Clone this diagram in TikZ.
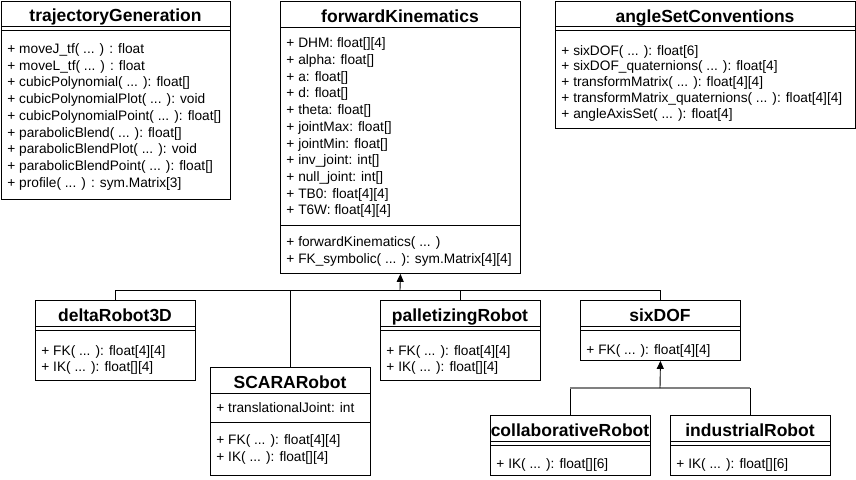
\documentclass[tikz,border=0pt]{standalone}
\usepackage{fontspec}
\setmainfont{Liberation Sans}
\usetikzlibrary{arrows.meta}

\tikzset{
  classbox/.style={draw, rectangle, inner sep=0pt, anchor=north west},
  classname/.style={font=\fontsize{17.5}{20}\selectfont\bfseries, anchor=base, inner sep=0pt},
  members/.style={font=\fontsize{13.7}{16.7}\selectfont, align=left, anchor=base west, inner sep=0pt},
  inherit/.style={-{Triangle[width=7pt,length=8pt]}},
}

\begin{document}
\begin{tikzpicture}[x=1pt, y=-1pt, line width=0.9pt]
\useasboundingbox (0,0) rectangle (856,479);

% top row (member lists are placed by the baseline of their last line)
\node[classbox, minimum width=229pt, minimum height=198pt] (traj) at (1,1) {};
\node[classname] (trajname) at (115.5,21.5) {trajectoryGeneration};
\draw (1,26) -- (230,26);
\draw (1,30) -- (230,30);
\node[members] (trajops) at (7,187.1) {+ moveJ\_tf( ... ) : float\\+ moveL\_tf( ... ) : float\\+ cubicPolynomial( ... ): float[]\\+ cubicPolynomialPlot( ... ): void\\+ cubicPolynomialPoint( ... ): float[]\\+ parabolicBlend( ... ): float[]\\+ parabolicBlendPlot( ... ): void\\+ parabolicBlendPoint( ... ): float[]\\+ profile( ... ) : sym.Matrix[3]};

\node[classbox, minimum width=240pt, minimum height=272pt] (fk) at (280,1) {};
\node[classname] (fkname) at (400,22) {forwardKinematics};
\draw (280,27) -- (520,27);
\node[members] (fkattr) at (286,214.8) {+ DHM: float[][4]\\+ alpha: float[]\\+ a: float[]\\+ d: float[]\\+ theta: float[]\\+ jointMax: float[]\\+ jointMin: float[]\\+ inv\_joint: int[]\\+ null\_joint: int[]\\+ TB0: float[4][4]\\+ T6W: float[4][4]};
\draw (280,225) -- (520,225);
\node[members] (fkops) at (286,263.2) {+ forwardKinematics( ... )\\+ FK\_symbolic( ... ): sym.Matrix[4][4]};

\node[classbox, minimum width=300pt, minimum height=127pt] (angles) at (555,1) {};
\node[classname] (anglesname) at (705,22) {angleSetConventions};
\draw (555,26) -- (855,26);
\draw (555,30) -- (855,30);
\node[members, font=\fontsize{13.7}{15.8}\selectfont] (anglesops) at (561,118.2) {+ sixDOF( ... ): float[6]\\+ sixDOF\_quaternions( ... ): float[4]\\+ transformMatrix( ... ): float[4][4]\\+ transformMatrix\_quaternions( ... ): float[4][4]\\+ angleAxisSet( ... ): float[4]};

% robots
\node[classbox, minimum width=160pt, minimum height=80pt] (delta) at (35,300) {};
\node[classname] (deltaname) at (115,321.5) {deltaRobot3D};
\draw (35,326.5) -- (195,326.5);
\draw (35,330.5) -- (195,330.5);
\node[members, font=\fontsize{13.7}{16}\selectfont] (deltaops) at (41,371) {+ FK( ... ): float[4][4]\\+ IK( ... ): float[][4]};

\node[classbox, minimum width=160pt, minimum height=108pt] (scara) at (210,367) {};
\node[classname] (scaraname) at (290,388) {SCARARobot};
\draw (210,393) -- (370,393);
\node[members] (scaraattr) at (216,412.5) {+ translationalJoint: int};
\draw (210,422) -- (370,422);
\node[members] (scaraops) at (216,461.2) {+ FK( ... ): float[4][4]\\+ IK( ... ): float[][4]};

\node[classbox, minimum width=160pt, minimum height=80pt] (pallet) at (380,300) {};
\node[classname] (palletname) at (460,321.5) {palletizingRobot};
\draw (380,326.5) -- (540,326.5);
\draw (380,330.5) -- (540,330.5);
\node[members, font=\fontsize{13.7}{16}\selectfont] (palletops) at (386,371) {+ FK( ... ): float[4][4]\\+ IK( ... ): float[][4]};

\node[classbox, minimum width=160pt, minimum height=60pt] (sixdof) at (580,300) {};
\node[classname] (sixdofname) at (660,321.5) {sixDOF};
\draw (580,326.5) -- (740,326.5);
\draw (580,330.5) -- (740,330.5);
\node[members] (sixdofops) at (586,354.5) {+ FK( ... ): float[4][4]};

\node[classbox, minimum width=160pt, minimum height=60pt] (collab) at (490,415) {};
\node[classname] (collabname) at (570,436.5) {collaborativeRobot};
\draw (490,441.5) -- (650,441.5);
\draw (490,445.5) -- (650,445.5);
\node[members] (collabops) at (496,468.5) {+ IK( ... ): float[][6]};

\node[classbox, minimum width=160pt, minimum height=60pt] (industrial) at (670,415) {};
\node[classname] (industrialname) at (750,436.5) {industrialRobot};
\draw (670,441.5) -- (830,441.5);
\draw (670,445.5) -- (830,445.5);
\node[members] (industrialops) at (676,468.5) {+ IK( ... ): float[][6]};

% inheritance
\coordinate (fkjoin) at (400,290);
\draw (delta.north) -- ++(0,-10) -| (sixdof.north);
\draw (scara.north) -- (scara.north |- fkjoin);
\draw (pallet.north) -- (pallet.north |- fkjoin);
\draw[inherit] (fkjoin) -- (fk.south);

\coordinate (sixjoin) at (660,388);
\draw (collab.north) -- (collab.north |- sixjoin);
\draw (industrial.north) -- (industrial.north |- sixjoin);
\draw[gray, line width=1.5pt] (collab.north |- sixjoin) -- (industrial.north |- sixjoin);
\draw[inherit] (sixjoin) -- (sixdof.south);
\end{tikzpicture}
\end{document}
